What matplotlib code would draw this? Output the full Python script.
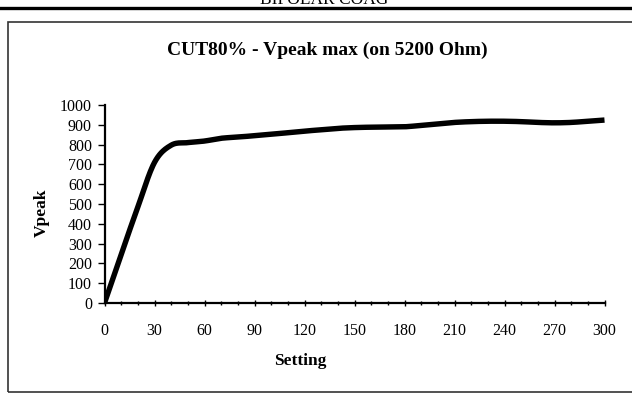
import numpy as np
import matplotlib
matplotlib.use('Agg')
from matplotlib import pyplot as plt
from matplotlib.patches import Rectangle
from matplotlib.ticker import MultipleLocator

# datos
setting = [0, 10, 20, 30, 40, 50, 60, 70, 80, 90, 100, 110, 120, 130, 140, 150,
           160, 170, 180, 190, 200, 210, 220, 230, 240, 250, 260, 270, 280, 290, 300]
vpeak = [0, 245, 485, 710, 797, 810, 818, 832, 838, 845, 852, 860, 868, 875, 882, 886,
         888, 889, 890, 897, 905, 912, 916, 918, 918, 916, 912, 910, 912, 918, 924]

titulo = 'CUT80% - Vpeak max (on 5200 Ohm)'
encabezado = 'BIPOLAR COAG'


def suavizar(x, y, n=20):
    # curva suave tipo Catmull-Rom entre los puntos
    x = np.asarray(x, float)
    y = np.asarray(y, float)
    px = np.concatenate([[2*x[0]-x[1]], x, [2*x[-1]-x[-2]]])
    py = np.concatenate([[2*y[0]-y[1]], y, [2*y[-1]-y[-2]]])
    xs, ys = [], []
    t = np.linspace(0, 1, n, endpoint=False)
    for i in range(1, len(px)-2):
        for p, out in ((px, xs), (py, ys)):
            p0, p1, p2, p3 = p[i-1], p[i], p[i+1], p[i+2]
            out.extend(0.5*((2*p1) + (-p0+p2)*t + (2*p0-5*p1+4*p2-p3)*t**2
                            + (-p0+3*p1-3*p2+p3)*t**3))
    xs.append(x[-1])
    ys.append(y[-1])
    return np.array(xs), np.array(ys)


plt.rcParams['font.family'] = ['Liberation Serif', 'DejaVu Serif']

fig = plt.figure(figsize=(6.32, 3.96), dpi=100)

# encabezado de pagina (cortado arriba) y linea
fig.text(324/632, 1-4/396, encabezado, ha='center', va='baseline', fontsize=12.5)
fig.add_artist(plt.Line2D([0, 1], [1-7.5/396, 1-7.5/396], color='black', lw=2.4,
                          transform=fig.transFigure))
# marco del grafico
fig.add_artist(Rectangle((8/632, 4.5/396), 1.0, (391-21)/396, transform=fig.transFigure,
                         fill=False, edgecolor='#333333', lw=1.2))

ax = fig.add_axes([104.5/632, 93/396, 500/632, 198/396])
xs, ys = suavizar(setting, vpeak)
ax.plot(xs, ys, color='black', lw=3.9, solid_capstyle='butt')

ax.set_xlim(0, 300)
ax.set_ylim(0, 1000)
ax.xaxis.set_major_locator(MultipleLocator(30))
ax.xaxis.set_minor_locator(MultipleLocator(10))
ax.yaxis.set_major_locator(MultipleLocator(100))
for s in ['top', 'right']:
    ax.spines[s].set_visible(False)
ax.spines['left'].set_linewidth(1.6)
ax.spines['bottom'].set_linewidth(1.6)
ax.tick_params(axis='x', which='both', direction='inout', length=5, width=1, pad=12)
ax.tick_params(axis='x', which='minor', length=3)
ax.tick_params(axis='y', direction='out', length=5, width=1, pad=4)
ax.tick_params(labelsize=11.5)

ax.set_xlabel('Setting', fontsize=12.5, fontweight='bold')
ax.set_ylabel('Vpeak', fontsize=12.5, fontweight='bold')
ax.xaxis.set_label_coords(0.392, -0.253)
ax.yaxis.set_label_coords(-0.11, 0.455)
fig.text(327/632, 1-50/396, titulo, ha='center', va='center',
         fontsize=14, fontweight='bold')

fig.savefig('out.png', dpi=100)
